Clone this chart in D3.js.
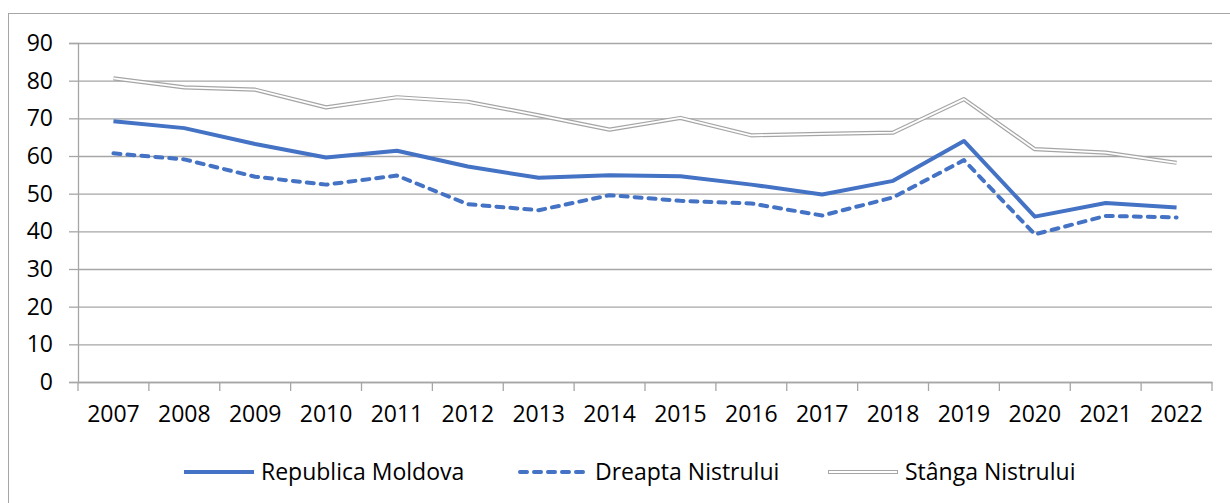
<!DOCTYPE html>
<html>
<head>
<meta charset="utf-8">
<script src="https://cdn.jsdelivr.net/npm/d3@7.9.0/dist/d3.min.js"></script>
<style>
  body { margin: 0; background: #fff; }
  svg { display: block; }
  svg text { font-family: 'Open Sans', sans-serif; }
</style>
</head>
<body>
<div id="chart"></div>
<script>
const years = ['2007', '2008', '2009', '2010', '2011', '2012', '2013', '2014',
  '2015', '2016', '2017', '2018', '2019', '2020', '2021', '2022'];
const moldova = [69.2, 67.4, 63.2, 59.6, 61.4, 57.2, 54.2, 54.9, 54.6, 52.4, 49.8, 53.4, 64.0, 43.9, 47.5, 46.3];
const dreapta = [60.7, 59.1, 54.5, 52.4, 54.8, 47.2, 45.6, 49.6, 48.1, 47.4, 44.2, 49.0, 58.9, 39.2, 44.1, 43.7];
const stanga = [80.6, 78.2, 77.6, 72.9, 75.6, 74.4, 70.8, 67.0, 70.1, 65.5, 65.9, 66.2, 75.1, 61.8, 60.9, 58.2];
const yTicks = [0, 10, 20, 30, 40, 50, 60, 70, 80, 90];
const seriesNames = ['Republica Moldova', 'Dreapta Nistrului', 'Stânga Nistrului'];

const width = 1230;
const height = 503;
const margin = { top: 43, right: 18, bottom: 121, left: 78 };
const usableArea = {
  top: margin.top,
  right: width - margin.right,
  bottom: height - margin.bottom,
  left: margin.left,
};

const blue = '#4472c4';
const grid = '#a6a6a6';
const fontSize = 23;

const svg = d3.select('#chart')
  .append('svg')
  .attr('width', width)
  .attr('height', height);

// outer chart frame
svg.append('rect')
  .attr('x', 8.5).attr('y', 13.5)
  .attr('width', 1240).attr('height', 520)
  .attr('fill', 'none')
  .attr('stroke', '#a6a6a6')
  .attr('stroke-width', 1);

const xScale = d3.scaleBand()
  .domain(years)
  .range([usableArea.left, usableArea.right]);

const yScale = d3.scaleLinear()
  .domain([0, 90])
  .range([usableArea.bottom, usableArea.top]);

// gridlines
svg.append('g')
  .attr('class', 'gridlines')
  .attr('transform', `translate(${usableArea.left}, 0)`)
  .call(d3.axisLeft(yScale).tickValues(yTicks).tickFormat('')
    .tickSize(-(usableArea.right - usableArea.left)))
  .call(g => g.select('.domain').remove())
  .call(g => g.selectAll('line').attr('stroke', grid).attr('stroke-width', 1.3));

// y axis
const yAxis = svg.append('g')
  .attr('transform', `translate(${usableArea.left}, 0)`)
  .call(d3.axisLeft(yScale).tickValues(yTicks).tickSize(9).tickPadding(16));
yAxis.attr('font-family', null);
yAxis.select('.domain').attr('stroke', grid).attr('stroke-width', 1.3);
yAxis.selectAll('line').attr('stroke', grid).attr('stroke-width', 1.3);
yAxis.selectAll('text').attr('font-size', fontSize).attr('fill', '#000');

// x axis: ticks between categories
const xAxis = svg.append('g')
  .attr('transform', `translate(0, ${usableArea.bottom})`)
  .call(d3.axisBottom(xScale).tickSize(0).tickPadding(24));
xAxis.attr('font-family', null);
xAxis.select('.domain').attr('stroke', grid).attr('stroke-width', 1.3);
xAxis.selectAll('text').attr('font-size', fontSize).attr('fill', '#000');
const bounds = years.map(d => xScale(d)).concat([usableArea.right]);
xAxis.selectAll('.sep')
  .data(bounds)
  .join('line')
  .attr('class', 'sep')
  .attr('x1', d => d).attr('x2', d => d)
  .attr('y1', 0).attr('y2', 9)
  .attr('stroke', grid).attr('stroke-width', 1.3);

const cx = d => xScale(d) + xScale.bandwidth() / 2;
const line = d3.line()
  .x((d, i) => cx(years[i]))
  .y(d => yScale(d));

// Stânga Nistrului: double grey line
svg.append('path').datum(stanga)
  .attr('d', line).attr('fill', 'none')
  .attr('stroke', '#a5a5a5').attr('stroke-width', 4.2)
  .attr('stroke-linejoin', 'round');
svg.append('path').datum(stanga)
  .attr('d', line).attr('fill', 'none')
  .attr('stroke', '#fff').attr('stroke-width', 1.8)
  .attr('stroke-linejoin', 'round');

// Dreapta Nistrului: dashed blue
svg.append('path').datum(dreapta)
  .attr('d', line).attr('fill', 'none')
  .attr('stroke', blue).attr('stroke-width', 4)
  .attr('stroke-dasharray', '7,7')
  .attr('stroke-linecap', 'round')
  .attr('stroke-linejoin', 'round');

// Republica Moldova: solid blue
svg.append('path').datum(moldova)
  .attr('d', line).attr('fill', 'none')
  .attr('stroke', blue).attr('stroke-width', 4)
  .attr('stroke-linejoin', 'round');

// legend
const legendY = 472;
const legendX = [184, 518, 828];
const legend = svg.append('g').attr('class', 'legend');
seriesNames.forEach((name, i) => {
  const g = legend.append('g').attr('transform', `translate(${legendX[i]}, ${legendY})`);
  if (i === 0) {
    g.append('line').attr('x1', 0).attr('x2', 70)
      .attr('stroke', blue).attr('stroke-width', 4);
  } else if (i === 1) {
    g.append('line').attr('x1', 2).attr('x2', 68)
      .attr('stroke', blue).attr('stroke-width', 4)
      .attr('stroke-dasharray', '7,7').attr('stroke-linecap', 'round');
  } else {
    g.append('line').attr('x1', 0).attr('x2', 70)
      .attr('stroke', '#a5a5a5').attr('stroke-width', 4.2);
    g.append('line').attr('x1', 1).attr('x2', 69)
      .attr('stroke', '#fff').attr('stroke-width', 1.8);
  }
  g.append('text')
    .attr('x', 77)
    .attr('dy', '0.35em')
    .attr('font-size', fontSize)
    .attr('fill', '#000')
    .text(name);
});
</script>
</body>
</html>
